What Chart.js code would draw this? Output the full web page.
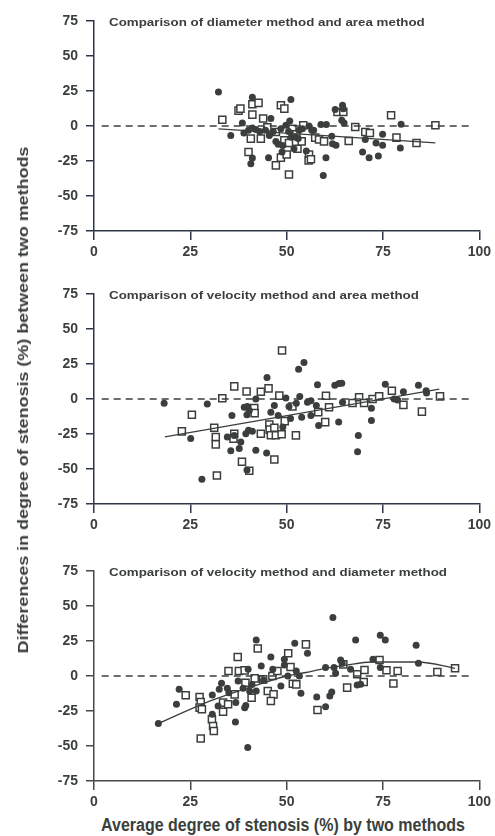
<!DOCTYPE html>
<html>
<head>
<meta charset="utf-8">
<script src="https://cdn.jsdelivr.net/npm/chart.js@4.4.1/dist/chart.umd.min.js"></script>
<style>
  html, body { margin: 0; padding: 0; background: #fff; }
  #wrap { position: relative; width: 495px; height: 836px; overflow: hidden; }
  .panel { position: absolute; left: 0; width: 495px; height: 262px; }
  #ytitle {
    position: absolute; left: 23px; top: 400px;
    transform: translate(-50%, -50%) rotate(-90deg) scaleX(1.28);
    white-space: nowrap; color: #3a3f3c; line-height: 16px;
    font: bold 14px "Liberation Sans", Arial, sans-serif;
  }
  #xtitle {
    position: absolute; left: 283px; top: 825px;
    transform: translate(-50%, -50%) scaleY(1.15);
    white-space: nowrap; color: #3a3f3c; line-height: 18px;
    font: bold 16px "Liberation Sans", Arial, sans-serif;
  }
</style>
</head>
<body>
<div id="wrap">
  <div class="panel" style="top:0px"><canvas id="c1" width="495" height="262"></canvas></div>
  <div class="panel" style="top:273px"><canvas id="c2" width="495" height="262"></canvas></div>
  <div class="panel" style="top:550px"><canvas id="c3" width="495" height="262"></canvas></div>
  <div id="ytitle">Differences in degree of stenosis (%) between two methods</div>
  <div id="xtitle">Average degree of stenosis (%) by two methods</div>
</div>
<script>
"use strict";

var xTickValues = [0, 25, 50, 75, 100];
var yTickValues = [-75, -50, -25, 0, 25, 50, 75];
var zeroLine = [[2, 0], [98, 0]];

// panel 1: diameter vs area
var p1Title = "Comparison of diameter method and area method";
var p1Filled = [[32.3,24.3],[41.1,20.5],[51.1,18.9],[35.5,-6.7],[38.5,2.1],[38.9,-5],[40.1,-3.1],[41.1,-1.5],
  [40.7,-26.9],[41.1,-22.9],[45.3,-22.6],[48.8,-18.6],[45.9,5.3],[50.8,3.6],[44.5,-3],[45.5,-6.7],[46.5,-4],
  [47.2,-11],[47.8,-13],[48.5,-2],[49.8,0.5],[50.5,-4],[51.2,-8],[51.9,-16.2],[52.4,-8],[53.2,-3],[54.1,-2],
  [55.1,-17.9],[55.8,0],[56.5,-3],[58.9,1],[60.3,1],[60.2,-22.6],[59.5,-35.3],[61.7,-7.4],[61.9,-12.6],
  [62.8,-13.8],[62.6,11.7],[64.5,14.8],[64.7,12.4],[64.3,4.1],[64.9,2.1],[70.4,-9.7],[69.7,-18.6],[71.4,-22.6],
  [73.8,-21.5],[73.2,-12.2],[74.9,-13.8],[74.9,-5.9],[79.7,1.2],[79.5,-15.7],[49,-14],[43,-4],[42,-2.5],
  [53,-9],[57,-3]];
var p1Open = [[33.3,4.5],[37.5,11],[38,12.4],[41.1,15.5],[42.7,16.5],[41.1,8.1],[43.9,5.3],[48.5,14.8],[49.4,12.4],
  [40.1,-18.6],[40.7,-9],[43.3,-9],[47.2,-28.1],[50.6,-34.6],[48.5,-22.6],[50,-20.3],[49.4,-10.2],[50.6,-12.2],
  [52.8,-16.2],[53.9,-11],[54.3,0.5],[55.8,-20.3],[55.7,-24.6],[56.3,-23.8],[57.4,-8.3],[58.4,-9.7],[59.7,-11],
  [63.2,10],[64.7,10],[67.8,-0.7],[66.1,-10.7],[70.4,-4.3],[71.6,-5],[77.1,7.7],[78.5,-8.3],[83.7,-12.2],
  [88.6,0.5],[51.5,-2],[47.2,-4.3],[45,-1],[52.5,-6]];
var p1Fit = [[32.3,-2],[88.6,-12]];

// panel 2: velocity vs area
var p2Title = "Comparison of velocity method and area method";
var p2Filled = [[18.2,-3.1],[25.1,-28.3],[28,-57.4],[29.4,-3.5],[35.8,-11.8],[35.5,-37],[37.7,-35.4],[38.1,-30.7],
  [34.6,-27.1],[36.4,-26],[39.4,-24.8],[40.1,-22.4],[41.1,-23.1],[39,-5.9],[39.8,-5.4],[40.3,-8.3],[39.7,-11.3],
  [39.7,-50.7],[42,-36.6],[44.8,-38.5],[42,0],[44.9,15.4],[45.9,-9.4],[46.8,-4.7],[47.8,-11.8],[49.8,0.7],
  [50.6,-5.4],[53.1,21.2],[54.5,26],[53.4,1.7],[53.9,-13],[55.4,-2.4],[56.3,-1.2],[56.3,-11.8],[58,10.1],
  [57.7,-4.7],[58.3,-18.9],[62.5,9.9],[63.6,11.1],[64.3,11.3],[63.5,-16.5],[64.5,-2.4],[68.6,-26],[68.4,-37.7],
  [72,-6.6],[72,-15.4],[75.6,10.6],[77.9,0],[78.8,-0.7],[80.3,5.2],[84.2,9.9],[86.2,5.9],[86.3,4.2],[52.5,-3],
  [51,-14],[49,-20]];
var p2Open = [[22.8,-23.1],[25.4,-11.3],[31.2,-20.5],[31.6,-27.1],[31.6,-32.4],[31.9,-54.7],[33.3,0.5],[36.4,9],
  [36.4,-24.8],[36.2,-28.3],[38.4,-44.8],[40.3,-51.2],[39.6,5.4],[41.6,-6.4],[41.7,-10.1],[43.3,-24.8],[43.3,5.2],
  [45.3,7.6],[45.5,-18.2],[45.6,-21.9],[45.9,-25.9],[46.8,-20.5],[47.2,-25.9],[48.7,-25.2],[46.8,-43.2],[48.1,2.4],
  [48.8,34.7],[49.5,-15.8],[51.5,-5.4],[52.4,-26],[58.2,-9.4],[60,-16.5],[60.2,2.3],[61,-5.9],[67.1,-2.8],
  [68.8,1.2],[70.1,-2.8],[72.3,0],[74,1.9],[77.3,5.9],[80.3,-4.2],[85.1,-9],[89.8,1.9]];
var p2Fit = [[18.4,-27],[89.6,7]];

// panel 3: velocity vs diameter
var p3Title = "Comparison of velocity method and diameter method";
var p3Filled = [[16.7,-34],[21.4,-20.2],[22.1,-9.5],[30.7,-13.6],[30.7,-27.4],[32.5,-9.5],[33.1,-5.2],[34.6,-8.8],
  [32.2,-21.4],[36.7,-32.9],[36.8,-19],[37.4,-3.6],[39.1,-22.6],[39.4,-21],[38.7,-8.8],[40,4.8],[39.9,-51.1],
  [40.4,-10.7],[42.1,-10.7],[42.1,25.7],[43.4,7.1],[45.9,13.6],[46.4,4.8],[48.5,-7.1],[49.4,11.9],[49.4,7.9],
  [50.3,0],[52.1,23.4],[52.5,3.6],[53.3,0],[53.7,-12.4],[55.4,16.2],[57.8,-15],[60.1,-21.9],[61.2,-14.3],
  [61.7,-11.4],[60.1,6],[62,41.7],[62.3,6],[62.7,1.9],[64,11.4],[64.4,9.1],[66.6,4.8],[67.9,25.7],[68.3,-6.4],
  [69.2,-5.9],[72.4,11.9],[74.3,29.1],[75.6,25.7],[74.3,6],[83.6,21.9],[84.2,9.1],[35,-12],[41,-6],[44,-3]];
var p3Open = [[23.8,-13.8],[27.4,-15],[27.7,-18.6],[27.4,-22.6],[28,-23.8],[27.7,-44.7],[30.6,-30.9],[30.9,-35.7],
  [31.1,-39.3],[33.5,-25.5],[33.5,-19],[34.8,-20.2],[34.9,3.6],[36.5,-13.1],[37.3,13.6],[37.6,3.6],[39.1,4],
  [39.3,-4.8],[40.9,-15.5],[41.7,-1.7],[42.5,19.6],[43.9,-2.4],[45.1,-10.7],[46.6,-13.1],[45.9,-17.9],[46.3,0],
  [47.6,3.6],[50.4,16.2],[51,6.4],[51.6,-5.5],[52.5,-6],[55,22.6],[58,-24.3],[64.7,8.3],[65.7,-8.3],[68.3,1.2],
  [70.2,4.3],[70,-4.3],[74.1,11.4],[75.9,4.1],[77.7,-5.4],[78.8,3.6],[89.1,2.9],[93.7,5.5]];
var p3Fit = [[16.7,-34],[30,-18],[40,-8.5],[50,0],[55,2.5],[60,5.5],[65,7.5],[72,10],[84,10],[93.7,5.5]];

var ink = "#3a3f3c";
var tickFont = { family: "'Liberation Sans', Arial, sans-serif", size: 14, weight: "bold" };

var toXY = function(list) {
  return list.map(function(p) { return { x: p[0], y: p[1] }; });
};

// title text sits inside the plot, top left; the print has wide lettering
var panelTitle = {
  id: "panelTitle",
  afterDraw: function(chart, args, opts) {
    var ctx = chart.ctx;
    ctx.save();
    ctx.fillStyle = ink;
    ctx.font = "bold 11.5px 'Liberation Sans', Arial, sans-serif";
    ctx.textBaseline = "middle";
    ctx.translate(chart.chartArea.left + 15, chart.chartArea.top + 2);
    ctx.scale(1.16, 1);
    ctx.fillText(opts.text, 0, 0);
    ctx.restore();
  }
};

var drawPanel = function(canvasId, title, filled, open, fit, axisColor) {
  var axis = function(values, ticksPad, tickLen, fitSize, horizontal) {
    return {
      type: "linear",
      min: values[0],
      max: values[values.length - 1],
      afterBuildTicks: function(scale) {
        scale.ticks = values.map(function(v) { return { value: v }; });
      },
      afterFit: function(scale) {
        if (horizontal) { scale.height = fitSize; } else { scale.width = fitSize; }
      },
      ticks: { color: ink, font: tickFont, padding: ticksPad, maxRotation: 0, autoSkip: false },
      grid: { drawOnChartArea: false, drawTicks: true, tickLength: tickLen, color: axisColor, lineWidth: 1.5 },
      border: { display: true, color: axisColor, width: 1.5 }
    };
  };

  new Chart(document.getElementById(canvasId), {
    type: "scatter",
    plugins: [panelTitle],
    data: {
      datasets: [
        {
          type: "line",
          data: toXY(zeroLine),
          borderColor: ink,
          borderWidth: 1.5,
          borderDash: [7, 5],
          pointRadius: 0,
          fill: false
        },
        {
          type: "line",
          data: toXY(fit),
          borderColor: ink,
          borderWidth: 1.3,
          cubicInterpolationMode: "monotone",
          pointRadius: 0,
          fill: false
        },
        {
          data: toXY(filled),
          pointStyle: "circle",
          pointRadius: 3.5,
          backgroundColor: ink,
          borderColor: ink,
          borderWidth: 0
        },
        {
          data: toXY(open),
          pointStyle: "rect",
          pointRadius: 5,
          backgroundColor: "#fff",
          borderColor: ink,
          borderWidth: 1.5
        }
      ]
    },
    options: {
      responsive: false,
      animation: false,
      devicePixelRatio: 1,
      layout: { padding: { top: 21, right: 15, left: 0, bottom: 0 } },
      plugins: {
        legend: { display: false },
        tooltip: { enabled: false },
        panelTitle: { text: title }
      },
      scales: {
        x: axis(xTickValues, 4, 9, 31, true),
        y: axis(yTickValues, 8, 8, 94, false)
      }
    }
  });
};

drawPanel("c1", p1Title, p1Filled, p1Open, p1Fit, "#2e3648");
drawPanel("c2", p2Title, p2Filled, p2Open, p2Fit, "#2e3648");
drawPanel("c3", p3Title, p3Filled, p3Open, p3Fit, "#454a47");
</script>
</body>
</html>
